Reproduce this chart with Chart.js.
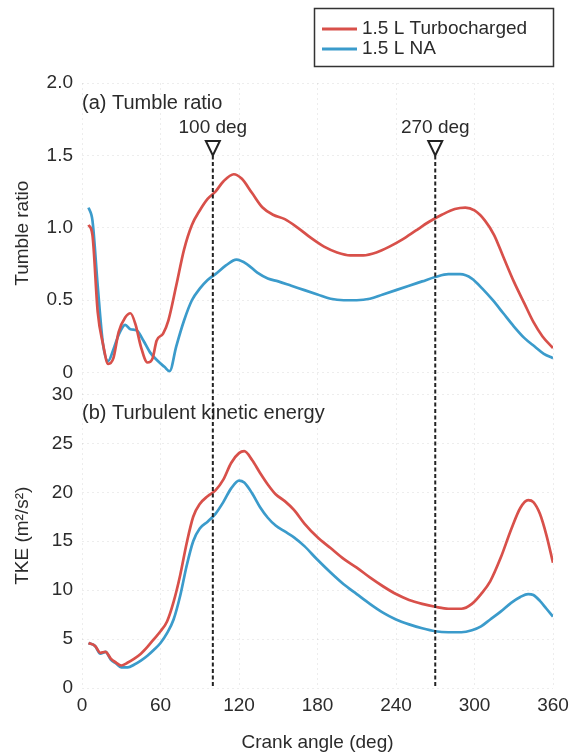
<!DOCTYPE html>
<html>
<head>
<meta charset="utf-8">
<script src="https://cdn.jsdelivr.net/npm/chart.js@4.4.1/dist/chart.umd.min.js"></script>
<style>
    html, body { margin: 0; padding: 0; background: #fff; }
</style>
</head>
<body>
<canvas id="graph" width="569" height="754"></canvas>
<script>
// Crank angle (deg) and tumble ratio
var tumble_angles = [5, 8, 12, 16, 20, 24, 28, 33, 37, 41, 45, 50, 54, 57, 62, 66, 72, 78, 84, 90, 96, 102, 108, 116, 122, 130, 138, 146, 155, 165, 175, 185, 195, 205, 215, 225, 235, 245, 255, 265, 275, 285, 293, 300, 308, 315, 322, 330, 338, 345, 352, 360];
var turbo_tumble = [1.02, 0.95, 0.42, 0.2, 0.06, 0.1, 0.28, 0.38, 0.41, 0.33, 0.18, 0.07, 0.1, 0.22, 0.27, 0.36, 0.6, 0.85, 1.02, 1.12, 1.2, 1.25, 1.32, 1.37, 1.34, 1.24, 1.14, 1.09, 1.06, 1.0, 0.93, 0.87, 0.83, 0.81, 0.81, 0.83, 0.87, 0.92, 0.98, 1.04, 1.09, 1.13, 1.14, 1.12, 1.05, 0.95, 0.8, 0.63, 0.48, 0.35, 0.25, 0.17];

var na_tumble_angles = [5, 8, 12, 16, 20, 24, 28, 33, 37, 42, 47, 52, 58, 63, 67, 72, 78, 84, 90, 96, 102, 110, 118, 126, 134, 142, 150, 160, 170, 180, 190, 200, 210, 220, 230, 240, 250, 260, 270, 280, 289, 298, 306, 314, 322, 330, 338, 346, 353, 360];
var na_tumble = [1.14, 1.05, 0.6, 0.2, 0.08, 0.16, 0.26, 0.33, 0.3, 0.29, 0.22, 0.14, 0.08, 0.04, 0.01, 0.18, 0.36, 0.5, 0.58, 0.64, 0.68, 0.74, 0.78, 0.75, 0.69, 0.65, 0.63, 0.6, 0.57, 0.54, 0.51, 0.5, 0.5, 0.51, 0.54, 0.57, 0.6, 0.63, 0.66, 0.68, 0.68, 0.65, 0.58, 0.5, 0.41, 0.32, 0.24, 0.18, 0.13, 0.1];

// Turbulent kinetic energy (m2/s2)
var tke_angles = [5, 10, 14, 18, 22, 26, 30, 35, 40, 45, 50, 55, 60, 65, 70, 75, 80, 85, 90, 96, 102, 108, 114, 120, 124, 130, 136, 142, 148, 155, 162, 170, 180, 190, 200, 210, 220, 230, 240, 250, 260, 270, 280, 290, 298, 305, 312, 320, 328, 335, 341, 345, 350, 355, 360];
var turbo_tke = [4.6, 4.3, 3.6, 3.7, 3.0, 2.6, 2.3, 2.6, 3.0, 3.5, 4.2, 5.0, 5.8, 6.8, 8.8, 11.5, 14.8, 17.5, 18.8, 19.6, 20.2, 21.3, 23.0, 24.0, 24.2, 23.3, 22.0, 20.8, 19.8, 19.1, 18.2, 16.8, 15.4, 14.3, 13.2, 12.3, 11.3, 10.4, 9.6, 9.0, 8.6, 8.3, 8.1, 8.1, 8.6, 9.6, 10.9, 13.3, 16.2, 18.4, 19.2, 19.0, 17.8, 15.6, 12.8];
var na_tke = [4.6, 4.3, 3.5, 3.7, 2.9, 2.5, 2.1, 2.1, 2.4, 2.8, 3.3, 3.9, 4.6, 5.6, 7.0, 9.4, 12.5, 15.0, 16.3, 17.0, 17.8, 19.0, 20.4, 21.2, 21.0, 19.9, 18.5, 17.4, 16.6, 16.0, 15.4, 14.5, 13.1, 11.8, 10.6, 9.6, 8.6, 7.7, 7.0, 6.5, 6.1, 5.8, 5.7, 5.7, 5.9, 6.3, 7.0, 7.8, 8.7, 9.3, 9.6, 9.5, 8.9, 8.1, 7.3];

var x_ticks = [0, 60, 120, 180, 240, 300, 360];
var tumble_ticks = [0, 0.5, 1.0, 1.5, 2.0];
var tke_ticks = [0, 5, 10, 15, 20, 25, 30];
var marker_angles = [100, 270];
var series_names = ['1.5 L Turbocharged', '1.5 L NA'];

var red = '#d8504a';
var blue = '#3b9bcb';
var txt = '#2b2b2b';
var font_name = '"Liberation Sans", Arial, sans-serif';
var fsize = 19;

function points(xs, ys) {
    var out = [];
    for (var i = 0; i < xs.length; i++) out.push({x: xs[i], y: ys[i]});
    return out;
}

function line_set(label, data, color, axis) {
    return {
        label: label,
        data: data,
        borderColor: color,
        backgroundColor: color,
        borderWidth: 2.7,
        pointRadius: 0,
        fill: false,
        cubicInterpolationMode: 'monotone',
        xAxisID: 'x',
        yAxisID: axis
    };
}

// marker lines, triangles, panel labels and the boxed legend
var annotate = {
    id: 'annotate',
    afterDraw(chart) {
        var ctx = chart.ctx;
        var xs = chart.scales.x, yt = chart.scales.yTumble, yk = chart.scales.yTke;
        var area = chart.chartArea;
        ctx.save();
        ctx.fillStyle = txt;
        ctx.font = '20px ' + font_name;
        ctx.textBaseline = 'middle';
        ctx.textAlign = 'left';
        ctx.fillText('(a) Tumble ratio', 82, yt.getPixelForValue(1.86));
        ctx.fillText('(b) Turbulent kinetic energy', 82, yk.getPixelForValue(28.1));

        ctx.font = fsize + 'px ' + font_name;
        for (const deg of marker_angles) {
            var px = xs.getPixelForValue(deg);
            var top = yt.getPixelForValue(1.6);
            var apex = yt.getPixelForValue(1.5);
            ctx.textAlign = 'center';
            ctx.fillText(deg + ' deg', px, yt.getPixelForValue(1.69));
            ctx.strokeStyle = '#222';
            ctx.lineWidth = 2;
            ctx.setLineDash([]);
            ctx.beginPath();
            ctx.moveTo(px - 7, top);
            ctx.lineTo(px + 7, top);
            ctx.lineTo(px, apex);
            ctx.closePath();
            ctx.stroke();
            ctx.setLineDash([4, 2.5]);
            ctx.beginPath();
            ctx.moveTo(px, apex);
            ctx.lineTo(px, area.bottom);
            ctx.stroke();
        }

        ctx.setLineDash([]);
        ctx.strokeStyle = '#333';
        ctx.lineWidth = 1.5;
        ctx.strokeRect(314.5, 8.5, 239, 58);
        var cols = [red, blue];
        for (var i = 0; i < 2; i++) {
            var ly = 29 + i * 20;
            ctx.strokeStyle = cols[i];
            ctx.lineWidth = 3;
            ctx.beginPath();
            ctx.moveTo(322, ly);
            ctx.lineTo(357, ly);
            ctx.stroke();
            ctx.textAlign = 'left';
            ctx.fillText(series_names[i], 362, ly);
        }
        ctx.restore();
    }
};

window.onload = ()=>{
    var grid_style = {color: 'rgba(0,0,0,0.07)', drawTicks: false};
    var tick_font = {family: font_name, size: fsize};
    var chart = new Chart('graph', {
        type: 'line',
        data: {
            datasets: [
                line_set(series_names[0], points(tumble_angles, turbo_tumble), red, 'yTumble'),
                line_set(series_names[1], points(na_tumble_angles, na_tumble), blue, 'yTumble'),
                line_set(series_names[0], points(tke_angles, turbo_tke), red, 'yTke'),
                line_set(series_names[1], points(tke_angles, na_tke), blue, 'yTke')
            ]
        },
        options: {
            responsive: false,
            animation: false,
            layout: {padding: {top: 83, right: 16, left: 0, bottom: 0}},
            plugins: {legend: {display: false}, tooltip: {enabled: false}},
            scales: {
                x: {
                    type: 'linear', min: 0, max: 360,
                    afterBuildTicks: (s)=>{ s.ticks = x_ticks.map(v=>({value: v})); },
                    ticks: {color: txt, font: tick_font, padding: 6},
                    grid: grid_style,
                    border: {display: false, dash: [2, 3]},
                    title: {display: true, text: 'Crank angle (deg)', color: txt, font: tick_font, padding: {top: 14, bottom: 0}},
                    afterFit: (s)=>{ s.height = 66; s.paddingRight = 0; s.paddingLeft = 0; }
                },
                yTke: {
                    type: 'linear', position: 'left', stack: 'panels', stackWeight: 305,
                    min: 0, max: 31.12,
                    afterBuildTicks: (s)=>{ s.ticks = tke_ticks.map(v=>({value: v})); },
                    ticks: {color: txt, font: tick_font, padding: 9},
                    grid: grid_style,
                    border: {display: false, dash: [2, 3]},
                    title: {display: true, text: 'TKE (m²/s²)', color: txt, font: tick_font, padding: {top: 11, bottom: 0}},
                    afterFit: (s)=>{ s.width = 82; }
                },
                yTumble: {
                    type: 'linear', position: 'left', stack: 'panels', stackWeight: 301,
                    min: -0.075, max: 2.0,
                    afterBuildTicks: (s)=>{ s.ticks = tumble_ticks.map(v=>({value: v})); },
                    ticks: {color: txt, font: tick_font, padding: 9,
                        callback: (v)=> v == 0 ? '0' : v.toFixed(1)},
                    grid: grid_style,
                    border: {display: false, dash: [2, 3]},
                    title: {display: true, text: 'Tumble ratio', color: txt, font: tick_font, padding: {top: 11, bottom: 0}},
                    afterFit: (s)=>{ s.width = 82; }
                }
            }
        },
        plugins: [annotate]
    });
};
</script>
</body>
</html>
